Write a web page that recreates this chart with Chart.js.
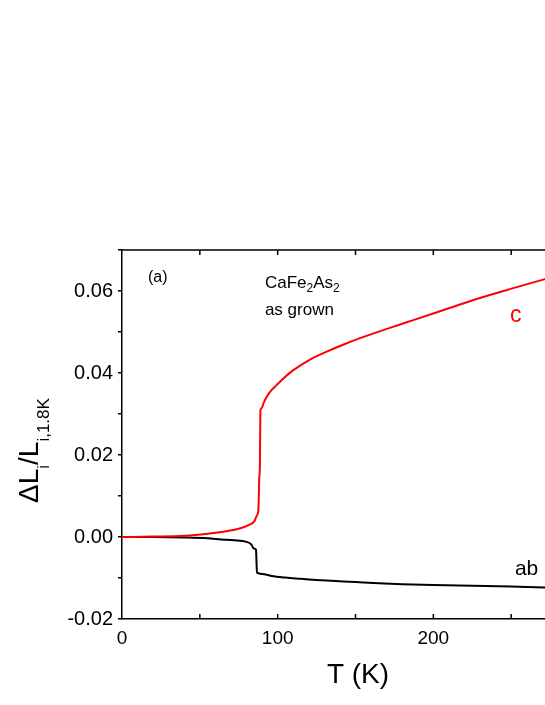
<!DOCTYPE html>
<html>
<head>
<meta charset="utf-8">
<script src="https://cdn.jsdelivr.net/npm/chart.js@4.4.1/dist/chart.umd.min.js"></script>
<style>
  html, body { margin: 0; padding: 0; background: #fff; overflow: hidden; }
  #wrap { width: 600px; height: 705px; }
</style>
</head>
<body>
<div id="wrap"><canvas id="chart" width="600" height="705"></canvas></div>
<script>
// c-axis (red) thermal expansion
const tempC = [0, 20, 40, 55, 65, 75, 82, 85, 86.7, 87.5, 87.8, 88.2, 88.6, 88.9, 89.7, 91, 93, 96, 99.4, 104, 110.1, 120, 131.5, 142, 152.9, 172.1, 187.1, 208.5, 229.9, 251.3, 271.7, 290, 300];
const dlC = [0, 0.0001, 0.0003, 0.0008, 0.0013, 0.002, 0.003, 0.0038, 0.0053, 0.0061, 0.0088, 0.0146, 0.0175, 0.0309, 0.0314, 0.0327, 0.0342, 0.0358, 0.0371, 0.0388, 0.0407, 0.0431, 0.0452, 0.0469, 0.0485, 0.051, 0.0529, 0.0556, 0.0583, 0.0607, 0.0629, 0.0648, 0.0658];

// ab-plane (black)
const tempAB = [0, 20, 40, 55, 64, 72, 80, 83, 84.6, 85.5, 86.1, 86.4, 86.7, 90, 96, 105, 115, 125, 135, 150, 165, 180, 200, 225, 250, 272, 300];
const dlAB = [0, 0, -0.0001, -0.0003, -0.0006, -0.0008, -0.0012, -0.0018, -0.0028, -0.0029, -0.0032, -0.006, -0.0087, -0.009, -0.0095, -0.0099, -0.0102, -0.0105, -0.0107, -0.011, -0.0113, -0.0115, -0.0117, -0.0119, -0.0121, -0.0123, -0.0125];

const xLabels = [0, 100, 200];
const xTicksMinor = [50, 100, 150, 200, 250, 300];

const FONT = '"Liberation Sans", Arial, sans-serif';

function toPoints(xs, ys) {
  return xs.map((x, i) => ({ x, y: ys[i] }));
}

// text labels placed in data units
const notes = [
  { text: "(a)", t: 16.7, v: 0.0623, size: 16, color: "#000" },
  { text: "as grown", t: 91.8, v: 0.0541, size: 17, color: "#000" },
  { text: "c", t: 249.2, v: 0.0525, size: 23, color: "#ff0000" },
  { text: "ab", t: 252.4, v: -0.0093, size: 21, color: "#000" },
];

const extras = {
  id: "extras",
  afterDraw(chart) {
    const ctx = chart.ctx;
    const xs = chart.scales.x;
    const ys = chart.scales.y;
    const a = chart.chartArea;
    ctx.save();

    // top frame + inward ticks
    ctx.strokeStyle = "#000";
    ctx.lineWidth = 1.5;
    ctx.beginPath();
    ctx.moveTo(a.left, a.top);
    ctx.lineTo(a.right, a.top);
    ctx.moveTo(a.right, a.top);
    ctx.lineTo(a.right, a.bottom);
    for (const t of xTicksMinor) {
      const px = xs.getPixelForValue(t);
      ctx.moveTo(px, a.bottom);
      ctx.lineTo(px, a.bottom - 5);
      ctx.moveTo(px, a.top);
      ctx.lineTo(px, a.top + 5);
    }
    ctx.stroke();

    // notes
    ctx.textBaseline = "alphabetic";
    ctx.textAlign = "left";
    for (const n of notes) {
      ctx.fillStyle = n.color;
      ctx.font = n.size + "px " + FONT;
      ctx.fillText(n.text, xs.getPixelForValue(n.t), ys.getPixelForValue(n.v));
    }

    // CaFe2As2 with subscripts
    let px = xs.getPixelForValue(91.8);
    const py = ys.getPixelForValue(0.0607);
    ctx.fillStyle = "#000";
    const parts = [["CaFe", 0], ["2", 1], ["As", 0], ["2", 1]];
    for (const [s, sub] of parts) {
      ctx.font = (sub ? 12 : 17) + "px " + FONT;
      ctx.fillText(s, px, py + (sub ? 4 : 0));
      px += ctx.measureText(s).width;
    }

    // x title
    ctx.font = "28px " + FONT;
    ctx.textAlign = "center";
    ctx.fillText("T (K)", 358, 683);

    // y title, rotated, with subscripts
    ctx.translate(38, 503);
    ctx.rotate(-Math.PI / 2);
    ctx.textAlign = "left";
    let x = 0;
    const yparts = [["\u0394L", 0], ["i", 1], ["/L", 0], ["i,1.8K", 1]];
    for (const [s, sub] of yparts) {
      ctx.font = (sub ? 17 : 28) + "px " + FONT;
      ctx.fillText(s, x, sub ? 11 : 0);
      x += ctx.measureText(s).width;
    }
    ctx.restore();
  },
};

new Chart(document.getElementById("chart"), {
  type: "line",
  data: {
    datasets: [
      {
        label: "c",
        data: toPoints(tempC, dlC),
        borderColor: "#ff0000",
        borderWidth: 2,
        pointRadius: 0,
        cubicInterpolationMode: "monotone",
      },
      {
        label: "ab",
        data: toPoints(tempAB, dlAB),
        borderColor: "#000000",
        borderWidth: 2,
        pointRadius: 0,
        cubicInterpolationMode: "monotone",
      },
    ],
  },
  options: {
    responsive: false,
    animation: false,
    layout: { padding: { left: 0, top: 250, right: 11, bottom: 0 } },
    plugins: { legend: { display: false }, tooltip: { enabled: false } },
    scales: {
      x: {
        type: "linear",
        min: 0,
        max: 300,
        afterFit(scale) { scale.height = 86; },
        border: { display: true, color: "#000", width: 1.5 },
        grid: { drawOnChartArea: false, drawTicks: false },
        ticks: {
          stepSize: 50,
          padding: 8,
          color: "#000",
          font: { family: FONT, size: 19 },
          callback: (v) => (xLabels.includes(v) ? String(v) : ""),
        },
      },
      y: {
        min: -0.02,
        max: 0.07,
        afterFit(scale) { scale.width = 122; },
        border: { display: true, color: "#000", width: 1.5 },
        grid: { drawOnChartArea: false, drawTicks: true, tickLength: 4, color: "#000", lineWidth: 1.5 },
        ticks: {
          stepSize: 0.01,
          padding: 5,
          color: "#000",
          font: { family: FONT, size: 20 },
          callback: (v) => {
            const k = Math.round(v * 100);
            return k % 2 === 0 ? (k / 100).toFixed(2) : "";
          },
        },
      },
    },
  },
  plugins: [extras],
});
</script>
</body>
</html>
